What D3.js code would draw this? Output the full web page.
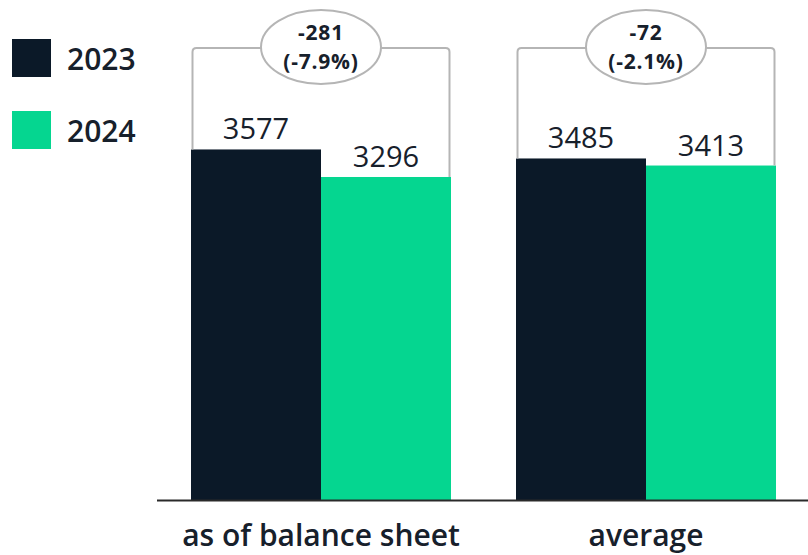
<!DOCTYPE html>
<html>
<head>
<meta charset="utf-8">
<script src="https://cdn.jsdelivr.net/npm/d3@7"></script>
<style>
  html, body { margin: 0; padding: 0; background: #fff; }
  svg { display: block; font-family: "Open Sans", "Noto Sans", sans-serif; }
</style>
</head>
<body>
<svg id="chart" width="808" height="555"></svg>
<script>
// Data
const categories = ["as of balance sheet", "average"];
const years = ["2023", "2024"];
const values2023 = [3577, 3485];
const values2024 = [3296, 3413];
const deltaLabels = ["-281", "-72"];
const deltaPctLabels = ["(-7.9%)", "(-2.1%)"];

const colors = { "2023": "#0b1928", "2024": "#05d690" };
const ink = "#17202b";

const svg = d3.select("#chart");
const W = 808, H = 555;
const baseY = 500;

const rows = categories.map((c, i) => ({
  category: c,
  values: [
    { year: "2023", value: values2023[i] },
    { year: "2024", value: values2024[i] }
  ],
  delta: deltaLabels[i],
  pct: deltaPctLabels[i]
}));

const x0 = d3.scaleBand().domain(categories).range([191, 776]).paddingInner(0.2).paddingOuter(0);
const x1 = d3.scaleBand().domain(years).range([0, x0.bandwidth()]).padding(0);
const y = d3.scaleLinear().domain([0, 4000]).range([baseY, 108]);

// Bars
const groups = svg.selectAll("g.group").data(rows).join("g")
  .attr("class", "group")
  .attr("transform", d => `translate(${x0(d.category)},0)`);

groups.selectAll("rect").data(d => d.values).join("rect")
  .attr("x", d => x1(d.year))
  .attr("width", x1.bandwidth())
  .attr("y", d => y(d.value))
  .attr("height", d => baseY - y(d.value))
  .attr("fill", d => colors[d.year]);

// Value labels above bars
groups.selectAll("text.val").data(d => d.values).join("text")
  .attr("class", "val")
  .attr("x", d => x1(d.year) + x1.bandwidth() / 2)
  .attr("y", d => y(d.value) - 10)
  .attr("text-anchor", "middle")
  .attr("font-size", 29)
  .attr("font-weight", 400)
  .attr("fill", ink)
  .text(d => d.value);

// Difference bracket with oval badge
const bracketY = 48, r = 4;
groups.each(function(d) {
  const g = d3.select(this);
  const xa = x1("2023") + 1.5;
  const xb = x1("2024") + x1.bandwidth() - 1.5;
  const ya = y(d.values[0].value);
  const yb = y(d.values[1].value);
  const p = d3.path();
  p.moveTo(xa, ya);
  p.lineTo(xa, bracketY + r);
  p.quadraticCurveTo(xa, bracketY, xa + r, bracketY);
  p.lineTo(xb - r, bracketY);
  p.quadraticCurveTo(xb, bracketY, xb, bracketY + r);
  p.lineTo(xb, yb);
  g.append("path").attr("d", p.toString())
    .attr("fill", "none").attr("stroke", "#b5b5b5").attr("stroke-width", 2);

  const cx = x0.bandwidth() / 2;
  g.append("ellipse")
    .attr("cx", cx).attr("cy", 47).attr("rx", 60).attr("ry", 37)
    .attr("fill", "#fff").attr("stroke", "#b5b5b5").attr("stroke-width", 2);
  g.append("text")
    .attr("x", cx).attr("y", 40)
    .attr("text-anchor", "middle")
    .attr("font-size", 21).attr("font-weight", 700).attr("fill", ink)
    .attr("letter-spacing", 0.8)
    .text(d.delta);
  g.append("text")
    .attr("x", cx).attr("y", 69)
    .attr("text-anchor", "middle")
    .attr("font-size", 21).attr("font-weight", 700).attr("fill", ink)
    .attr("letter-spacing", 0.8)
    .text(d.pct);
});

// Baseline axis
const xAxis = d3.axisBottom(x0).tickSize(0).tickPadding(25);
const axisG = svg.append("g")
  .attr("transform", `translate(0,${baseY})`)
  .call(xAxis);
axisG.select(".domain").remove();
axisG.append("line")
  .attr("x1", 157).attr("x2", W)
  .attr("y1", 0.5).attr("y2", 0.5)
  .attr("stroke", "#2a2a2a").attr("stroke-width", 2);
axisG.selectAll(".tick text")
  .attr("font-family", "'Open Sans', 'Noto Sans', sans-serif")
  .attr("font-size", 30)
  .attr("font-weight", 600)
  .attr("fill", ink)
  .attr("dy", "0.71em");

// Legend
const legend = svg.append("g").selectAll("g").data(years).join("g")
  .attr("transform", (d, i) => `translate(12,${39 + i * 72})`);
legend.append("rect")
  .attr("width", 39).attr("height", 38)
  .attr("fill", d => colors[d]);
legend.append("text")
  .attr("x", 55).attr("y", 31)
  .attr("font-size", 30).attr("font-weight", 600)
  .attr("fill", ink)
  .text(d => d);
</script>
</body>
</html>
